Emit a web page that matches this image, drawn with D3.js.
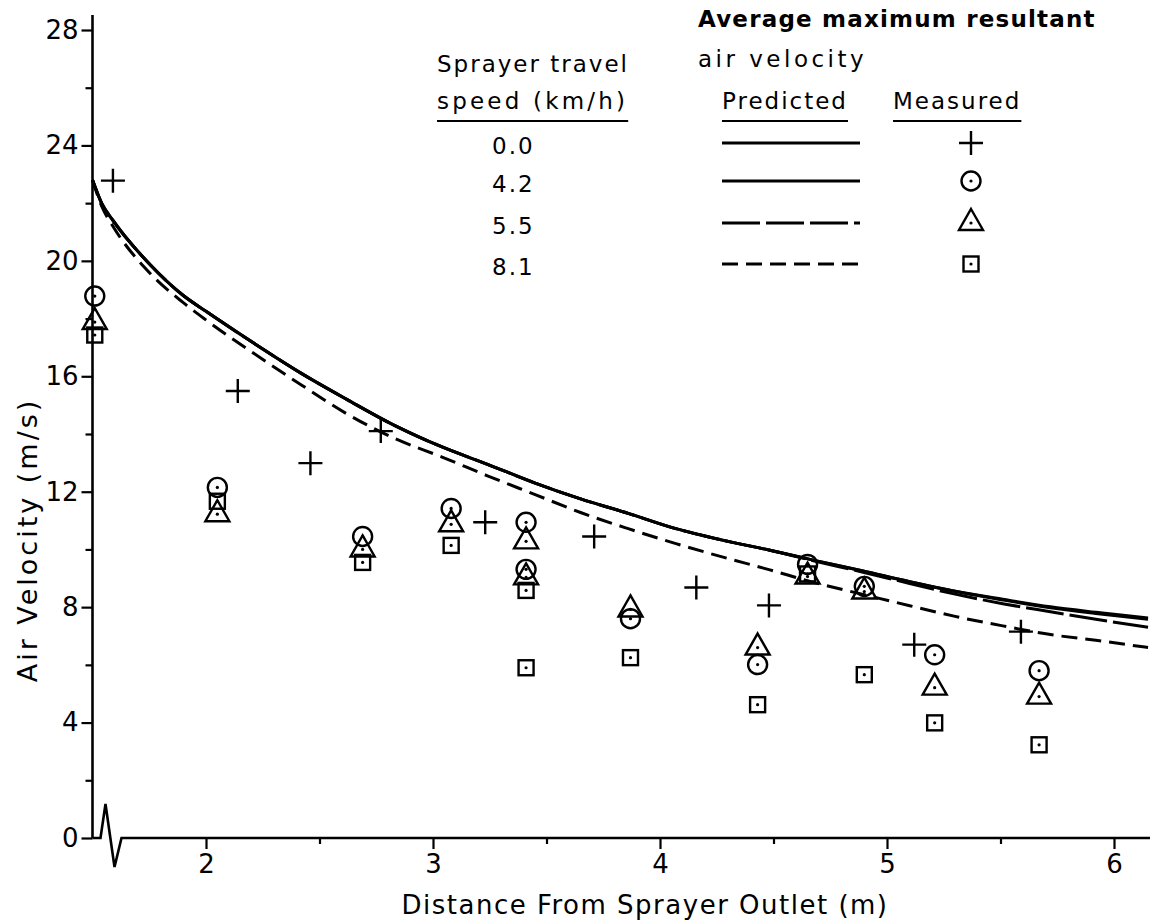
<!DOCTYPE html>
<html>
<head>
<meta charset="utf-8">
<script src="https://cdn.jsdelivr.net/npm/d3@7/dist/d3.min.js"></script>
<style>
  body { margin: 0; background: #fff; }
  text { font-family: "DejaVu Sans", sans-serif; fill: #000; }
</style>
</head>
<body>
<script>

// predicted curves
var predDist = [1.5, 1.54, 1.59, 1.75, 1.9, 2.0, 2.21, 2.42, 2.62, 2.83, 3.04, 3.24, 3.45, 3.65, 3.86, 4.07, 4.27, 4.48, 4.68, 4.89, 5.1, 5.3, 5.51, 5.72, 5.92, 6.15];
var pred00 = [22.8, 22.0, 21.4, 19.9, 18.8, 18.25, 17.15, 16.1, 15.2, 14.3, 13.55, 12.95, 12.3, 11.75, 11.25, 10.72, 10.33, 9.98, 9.62, 9.26, 8.88, 8.55, 8.27, 8.01, 7.82, 7.62];
var pred42 = [22.8, 22.0, 21.4, 19.9, 18.8, 18.25, 17.15, 16.1, 15.2, 14.3, 13.55, 12.95, 12.3, 11.75, 11.25, 10.72, 10.33, 9.98, 9.62, 9.26, 8.88, 8.55, 8.25, 7.98, 7.78, 7.58];
var pred55 = [22.8, 22.0, 21.4, 19.9, 18.8, 18.25, 17.15, 16.1, 15.2, 14.3, 13.55, 12.95, 12.3, 11.75, 11.25, 10.72, 10.33, 9.98, 9.6, 9.22, 8.82, 8.45, 8.12, 7.84, 7.58, 7.3];
var pred81 = [22.8, 21.9, 21.2, 19.6, 18.55, 17.95, 16.8, 15.7, 14.7, 13.85, 13.2, 12.55, 11.9, 11.28, 10.72, 10.2, 9.75, 9.3, 8.85, 8.45, 8.05, 7.68, 7.35, 7.05, 6.85, 6.6];

// measured points
var plusDist = [1.59, 2.14, 2.46, 2.77, 3.23, 3.71, 4.16, 4.48, 5.12, 5.59];
var plusVel = [22.78, 15.49, 12.99, 14.1, 10.94, 10.45, 8.68, 8.06, 6.7, 7.15];
var measDist = [1.51, 2.05, 2.69, 3.08, 3.41, 3.41, 3.87, 4.43, 4.65, 4.9, 5.21, 5.67];
var circleVel = [18.78, 12.15, 10.45, 11.42, 10.94, 9.31, 7.6, 6.01, 9.48, 8.72, 6.35, 5.8];
var triVel = [17.88, 11.22, 10.0, 10.87, 10.28, 9.03, 7.92, 6.6, 9.06, 8.54, 5.21, 4.9];
var squareVel = [17.43, 11.67, 9.55, 10.14, 8.58, 5.9, 6.25, 4.62, 9.15, 5.66, 3.99, 3.23];

var xTicks = [2, 3, 4, 5, 6];
var xMinorTicks = [2.5, 3.5, 4.5, 5.5];
var yTicks = [0, 4, 8, 12, 16, 20, 24, 28];
var yMinorTicks = [2, 6, 10, 14, 18, 22, 26];
var speeds = ["0.0", "4.2", "5.5", "8.1"];

var width = 1170,
    height = 923;

var svg = d3.select("body").append("svg")
    .attr("width", width)
    .attr("height", height);

var x = d3.scaleLinear().domain([2, 6]).range([206, 1114]);
var y = d3.scaleLinear().domain([0, 28]).range([838, 30]);

var x0 = x(1.5), y0 = y(0);

// axis lines (x axis has a break near the origin)
svg.append("path")
    .attr("d", "M" + x0 + "," + y0 + "H" + (x0 + 8) + "L" + (x0 + 13) + "," + (y0 - 34) +
               "L" + (x0 + 22) + "," + (y0 + 29) + "L" + (x0 + 29) + "," + y0 + "H" + 1150)
    .attr("fill", "none")
    .attr("stroke", "#000")
    .attr("stroke-width", 2.6)
    .attr("stroke-linejoin", "miter");

svg.append("line")
    .attr("x1", x0).attr("x2", x0)
    .attr("y1", y0).attr("y2", 15)
    .attr("stroke", "#000")
    .attr("stroke-width", 2.6);

// y ticks
var yAxis = svg.append("g")
    .attr("transform", "translate(" + x0 + ",0)")
    .call(d3.axisLeft(y).tickValues(yTicks).tickSize(11).tickPadding(3).tickFormat(d3.format("d")));
var yMinor = svg.append("g")
    .attr("transform", "translate(" + x0 + ",0)")
    .call(d3.axisLeft(y).tickValues(yMinorTicks).tickSize(7).tickFormat(""));

// x ticks
var xAxis = svg.append("g")
    .attr("transform", "translate(0," + y0 + ")")
    .call(d3.axisBottom(x).tickValues(xTicks).tickSize(11).tickPadding(6).tickFormat(d3.format("d")));
var xMinor = svg.append("g")
    .attr("transform", "translate(0," + y0 + ")")
    .call(d3.axisBottom(x).tickValues(xMinorTicks).tickSize(6).tickFormat(""));

[yAxis, yMinor, xAxis, xMinor].forEach(function(g) {
  g.select(".domain").remove();
  g.selectAll("line").attr("stroke", "#000").attr("stroke-width", 2.2);
  g.selectAll("text")
      .style("font-family", "'DejaVu Sans', sans-serif")
      .style("font-size", "26px")
      .attr("fill", "#000");
});

// axis titles
svg.append("text")
    .attr("transform", "translate(37,540) rotate(-90)")
    .attr("text-anchor", "middle")
    .style("font-size", "27px")
    .style("letter-spacing", "3px")
    .text("Air Velocity  (m/s)");

svg.append("text")
    .attr("x", 645)
    .attr("y", 914)
    .attr("text-anchor", "middle")
    .style("font-size", "26px")
    .style("letter-spacing", "1.5px")
    .text("Distance From Sprayer Outlet (m)");

// predicted curves
var curves = [
  { vals: pred00, dash: null },
  { vals: pred42, dash: null },
  { vals: pred55, dash: "38,6" },
  { vals: pred81, dash: "16,8" }
];

var line = d3.line()
    .x(function(d) { return x(d[0]); })
    .y(function(d) { return y(d[1]); })
    .curve(d3.curveMonotoneX);

curves.forEach(function(c) {
  svg.append("path")
      .datum(predDist.map(function(d, i) { return [d, c.vals[i]]; }))
      .attr("d", line)
      .attr("fill", "none")
      .attr("stroke", "#000")
      .attr("stroke-width", 3)
      .attr("stroke-dasharray", c.dash);
});

// marker drawing
function drawMarker(g, type, cx, cy) {
  var s = "#000";
  if (type == "plus") {
    g.append("path")
        .attr("d", "M" + (cx - 12) + "," + cy + "H" + (cx + 12) + "M" + cx + "," + (cy - 12) + "V" + (cy + 12))
        .attr("stroke", s).attr("stroke-width", 2.4).attr("fill", "none");
    return;
  }
  if (type == "circle") {
    g.append("circle").attr("cx", cx).attr("cy", cy).attr("r", 9.5)
        .attr("fill", "none").attr("stroke", s).attr("stroke-width", 2.4);
  } else if (type == "tri") {
    g.append("path")
        .attr("d", "M" + cx + "," + (cy - 14) + "L" + (cx + 12) + "," + (cy + 7) + "L" + (cx - 12) + "," + (cy + 7) + "Z")
        .attr("fill", "none").attr("stroke", s).attr("stroke-width", 2.4);
  } else if (type == "square") {
    g.append("rect").attr("x", cx - 7.5).attr("y", cy - 7.5).attr("width", 15).attr("height", 15)
        .attr("fill", "none").attr("stroke", s).attr("stroke-width", 2.4);
  }
  g.append("circle").attr("cx", cx).attr("cy", cy).attr("r", 1.6).attr("fill", s);
}

var marks = svg.append("g");
plusDist.forEach(function(d, i) { drawMarker(marks, "plus", x(d), y(plusVel[i])); });
measDist.forEach(function(d, i) { drawMarker(marks, "circle", x(d), y(circleVel[i])); });
measDist.forEach(function(d, i) { drawMarker(marks, "tri", x(d), y(triVel[i])); });
measDist.forEach(function(d, i) { drawMarker(marks, "square", x(d), y(squareVel[i])); });

// legend
var leg = svg.append("g").style("font-size", "23px").style("letter-spacing", "2px");

leg.append("text").attr("x", 698).attr("y", 27).style("font-weight", "bold").style("letter-spacing", "1.2px").text("Average  maximum resultant");
leg.append("text").attr("x", 698).attr("y", 67).style("letter-spacing", "3.5px").text("air  velocity");
leg.append("text").attr("x", 437).attr("y", 72).text("Sprayer  travel");

var heads = [
  { t: "speed  (km/h)", x: 437, ls: "3.2px" },
  { t: "Predicted", x: 722, ls: "2px" },
  { t: "Measured", x: 893, ls: "2px" }
];
heads.forEach(function(h) {
  var t = leg.append("text").attr("x", h.x).attr("y", 109).style("letter-spacing", h.ls).text(h.t);
  var w = t.node().getComputedTextLength();
  leg.append("line")
      .attr("x1", h.x).attr("x2", h.x + w)
      .attr("y1", 121).attr("y2", 121)
      .attr("stroke", "#000").attr("stroke-width", 2.2);
});

var rowY = [145, 183, 225, 266];
var rowMarker = ["plus", "circle", "tri", "square"];
speeds.forEach(function(s, i) {
  leg.append("text").attr("x", 492).attr("y", rowY[i] + 9).text(s);
  leg.append("line")
      .attr("x1", 722).attr("x2", 860)
      .attr("y1", rowY[i] - 2).attr("y2", rowY[i] - 2)
      .attr("stroke", "#000").attr("stroke-width", 3)
      .attr("stroke-dasharray", curves[i].dash);
  drawMarker(leg, rowMarker[i], 971, rowY[i] - 2);
});

</script>
</body>
</html>
